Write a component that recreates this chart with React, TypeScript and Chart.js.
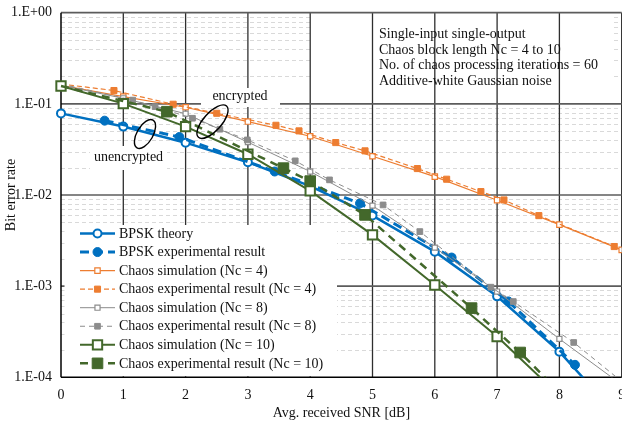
import React, { useEffect, useRef } from 'react';
import { Chart, registerables } from 'chart.js';

Chart.register(...registerables);

// ---------- data ----------
const seriesLabels = [
  'BPSK theory',
  'BPSK experimental result',
  'Chaos simulation (Nc = 4)',
  'Chaos experimental result (Nc = 4)',
  'Chaos simulation (Nc = 8)',
  'Chaos experimental result (Nc = 8)',
  'Chaos simulation (Nc = 10)',
  'Chaos experimental result (Nc = 10)',
];

const snrBpskTheory = [0, 1, 2, 3, 4, 5, 6, 7, 8, 9];
const berBpskTheory = [0.0786, 0.0563, 0.0375, 0.0229, 0.0125, 0.00595, 0.00239, 0.000773, 0.000191, 0.0000336];

const snrBpskExp = [0.7, 1.9, 3.43, 4.8, 6.27, 7.18, 8.25];
const berBpskExp = [0.0654, 0.0433, 0.0181, 0.0081, 0.00206, 0.00068, 0.000137];

const snrSimNc4 = [0, 1, 2, 3, 4, 5, 6, 7, 8, 9];
const berSimNc4 = [0.16, 0.12, 0.0918, 0.0639, 0.0441, 0.0266, 0.0159, 0.00877, 0.00473, 0.0025];

const snrExpNc4 = [0, 0.85, 1.8, 2.5, 3.45, 3.82, 4.41, 4.88, 5.72, 6.19, 6.74, 7.11, 7.67, 8.88];
const berExpNc4 = [0.165, 0.14, 0.099, 0.0788, 0.0582, 0.0505, 0.0376, 0.0305, 0.0195, 0.0149, 0.0109, 0.00883, 0.00594, 0.00272];

const snrSimNc8 = [0, 1, 2, 3, 4, 5, 6, 7, 8, 9];
const berSimNc8 = [0.16, 0.115, 0.078, 0.038, 0.0181, 0.00765, 0.00265, 0.000873, 0.000264, 0.000083];

const snrExpNc8 = [0, 1.15, 1.51, 2.11, 2.55, 2.99, 3.76, 4.31, 5.17, 5.76, 6.9, 7.26, 8.23, 9.0];
const berExpNc8 = [0.165, 0.11, 0.0933, 0.0695, 0.0527, 0.0402, 0.0237, 0.01465, 0.00778, 0.00397, 0.000975, 0.000678, 0.000241, 0.00009];

const snrSimNc10 = [0, 1, 2, 3, 4, 5, 6, 7, 8];
const berSimNc10 = [0.157, 0.1005, 0.0562, 0.028, 0.0111, 0.00365, 0.00103, 0.00028, 0.000063];

const snrExpNc10 = [0, 1.7, 3.57, 4.0, 4.88, 6.59, 7.37, 8.0];
const berExpNc10 = [0.157, 0.082, 0.0197, 0.0142, 0.00605, 0.000574, 0.000187, 0.000069];

const xTickLabels = ['0', '1', '2', '3', '4', '5', '6', '7', '8', '9'];
const yTickValues = [1, 0.1, 0.01, 0.001, 0.0001];
const yTickLabels = ['1.E+00', '1.E-01', '1.E-02', '1.E-03', '1.E-04'];

const xTitle = 'Avg. received SNR [dB]';
const yTitle = 'Bit error rate';
const noteLines = [
  'Single-input single-output',
  'Chaos block length Nc = 4 to 10',
  'No. of chaos processing iterations = 60',
  'Additive-white Gaussian noise',
];
const labelEncrypted = 'encrypted';
const labelUnencrypted = 'unencrypted';

// ---------- styles ----------
const FONT = '"Liberation Serif", "Times New Roman", serif';
const BLUE = '#0070c0';
const ORANGE = '#ed7d31';
const GRAY = '#8c8c8c';
const GREEN = '#43682b';
const TEXT = '#111111';

type Style = {
  color: string; width: number; dash: number[]; shape: 'circle' | 'rect';
  r: number; fill: string; bw: number;
};

const styles: Style[] = [
  { color: BLUE, width: 2.5, dash: [], shape: 'circle', r: 4, fill: '#fff', bw: 2 },
  { color: BLUE, width: 3, dash: [9, 5], shape: 'circle', r: 4.5, fill: BLUE, bw: 1 },
  { color: ORANGE, width: 1.2, dash: [], shape: 'rect', r: 3.8, fill: '#fff', bw: 1.2 },
  { color: ORANGE, width: 1.2, dash: [5, 3], shape: 'rect', r: 4.3, fill: ORANGE, bw: 1 },
  { color: GRAY, width: 1, dash: [], shape: 'rect', r: 3.6, fill: '#fff', bw: 1.2 },
  { color: GRAY, width: 1, dash: [5, 4], shape: 'rect', r: 4, fill: GRAY, bw: 1 },
  { color: GREEN, width: 2, dash: [], shape: 'rect', r: 6.6, fill: '#fff', bw: 2 },
  { color: GREEN, width: 2.5, dash: [8, 6], shape: 'rect', r: 7.5, fill: GREEN, bw: 1 },
];

const seriesX = [snrBpskTheory, snrBpskExp, snrSimNc4, snrExpNc4, snrSimNc8, snrExpNc8, snrSimNc10, snrExpNc10];
const seriesY = [berBpskTheory, berBpskExp, berSimNc4, berExpNc4, berSimNc8, berExpNc8, berSimNc10, berExpNc10];

function drawMarker(ctx: CanvasRenderingContext2D, s: Style, x: number, y: number) {
  ctx.save();
  ctx.setLineDash([]);
  ctx.fillStyle = s.fill;
  ctx.strokeStyle = s.color;
  ctx.lineWidth = s.bw;
  ctx.beginPath();
  if (s.shape === 'circle') {
    ctx.arc(x, y, s.r, 0, Math.PI * 2);
  } else {
    const h = s.r * Math.SQRT1_2;
    ctx.rect(x - h, y - h, 2 * h, 2 * h);
  }
  ctx.fill();
  ctx.stroke();
  ctx.restore();
}

const decorPlugin = {
  id: 'decor',
  beforeDatasetsDraw(chart: any) {
    const { ctx, chartArea: a, scales } = chart;
    const xs = scales.x;
    const ys = scales.y;
    const hline = (x1: number, y: number, x2: number) => {
      ctx.beginPath(); ctx.moveTo(x1, y); ctx.lineTo(x2, y); ctx.stroke();
    };
    const vline = (x: number, y1: number, y2: number) => {
      ctx.beginPath(); ctx.moveTo(x, y1); ctx.lineTo(x, y2); ctx.stroke();
    };
    ctx.save();
    // minor horizontal dashed grid
    ctx.strokeStyle = '#d9d9d9';
    ctx.lineWidth = 1;
    ctx.setLineDash([4, 3]);
    for (let e = -4; e < 0; e++) {
      for (let k = 2; k <= 9; k++) {
        const y = Math.round(ys.getPixelForValue(k * Math.pow(10, e))) + 0.5;
        hline(a.left, y, a.right);
      }
    }
    ctx.setLineDash([]);
    // note box (behind major grid)
    ctx.fillStyle = '#fff';
    ctx.fillRect(312, 14, 299, 86);
    // major vertical grid
    ctx.strokeStyle = '#2e2e2e';
    ctx.lineWidth = 1.3;
    for (let v = 1; v <= 9; v++) vline(xs.getPixelForValue(v), a.top, a.bottom);
    // major horizontal grid
    ctx.strokeStyle = '#5c5c5c';
    ctx.lineWidth = 1.7;
    for (const v of yTickValues.slice(0, 4)) hline(a.left, ys.getPixelForValue(v), a.right);
    // white label boxes
    ctx.fillStyle = '#fff';
    ctx.fillRect(64.5, 225, 272.5, a.bottom - 225 - 1);
    ctx.fillRect(90, 146, 77, 24);
    ctx.fillRect(201, 88, 79, 19);
    // axes
    ctx.strokeStyle = '#000';
    ctx.lineWidth = 1.5;
    vline(a.left, a.top, a.bottom);
    hline(a.left, a.bottom, a.right);
    ctx.restore();
  },
  afterDatasetsDraw(chart: any) {
    const { ctx } = chart;
    ctx.save();
    // ellipses
    ctx.strokeStyle = '#000';
    ctx.lineWidth = 1.4;
    ctx.beginPath();
    ctx.ellipse(145, 134, 16, 8, -60 * Math.PI / 180, 0, Math.PI * 2);
    ctx.stroke();
    ctx.beginPath();
    ctx.ellipse(212.5, 121.7, 21, 9, -48 * Math.PI / 180, 0, Math.PI * 2);
    ctx.stroke();
    // texts
    ctx.fillStyle = TEXT;
    ctx.font = `14px ${FONT}`;
    ctx.textBaseline = 'middle';
    ctx.textAlign = 'center';
    ctx.fillText(labelEncrypted, 240, 96.5);
    ctx.fillText(labelUnencrypted, 128.5, 157);
    ctx.textAlign = 'left';
    noteLines.forEach((t, i) => ctx.fillText(t, 379, 34 + i * 15.9));
    // legend
    seriesLabels.forEach((label, i) => {
      const s = styles[i];
      const y = 233.5 + i * 18.55;
      ctx.save();
      ctx.strokeStyle = s.color;
      ctx.lineWidth = s.width;
      ctx.setLineDash(s.dash);
      ctx.beginPath();
      ctx.moveTo(80, y);
      ctx.lineTo(115, y);
      ctx.stroke();
      ctx.restore();
      drawMarker(ctx, s, 97.5, y);
      ctx.fillStyle = TEXT;
      ctx.fillText(label, 119, y + 0.5);
    });
    ctx.restore();
  },
};

export default function App() {
  const ref = useRef<HTMLCanvasElement>(null);
  useEffect(() => {
    const canvas = ref.current;
    if (!canvas) return;
    const datasets = seriesLabels.map((label, i) => {
      const s = styles[i];
      const isExp = i % 2 === 1;
      return {
        label,
        data: seriesX[i].map((x, j) => ({ x, y: seriesY[i][j] })),
        borderColor: s.color,
        backgroundColor: s.fill,
        borderWidth: s.width,
        borderDash: s.dash,
        pointStyle: s.shape,
        pointRadius: (c: any) => (isExp && c.raw && c.raw.x === 0 ? 0 : s.r),
        pointBackgroundColor: s.fill,
        pointBorderColor: s.color,
        pointBorderWidth: s.bw,
        pointHoverRadius: s.r,
        tension: 0,
        fill: false,
        order: 20 - i,
        clip: { left: 20, top: 20, right: 0, bottom: 0 },
      };
    });
    const chart = new Chart(canvas, {
      type: 'line',
      data: { datasets } as any,
      plugins: [decorPlugin as any],
      options: {
        responsive: false,
        animation: false,
        devicePixelRatio: 1,
        events: [],
        layout: { padding: { top: 12.7, right: 18.3, bottom: 0, left: 0 } },
        plugins: { legend: { display: false }, tooltip: { enabled: false } },
        scales: {
          x: {
            type: 'linear',
            min: 0,
            max: 9,
            afterFit: (s: any) => { s.height = 45.7; s.paddingLeft = 0; s.paddingRight = 0; },
            grid: { display: false, drawTicks: false },
            border: { display: false },
            ticks: {
              stepSize: 1,
              autoSkip: false,
              maxRotation: 0,
              padding: 10,
              color: TEXT,
              font: { family: FONT, size: 14 },
              callback: (v: any) => xTickLabels[Math.round(Number(v))] ?? '',
            },
            title: {
              display: true,
              text: xTitle,
              color: TEXT,
              font: { family: FONT, size: 14 },
              padding: { top: 0, bottom: 1.6 },
            },
          },
          y: {
            type: 'logarithmic',
            min: 0.0001,
            max: 1,
            afterFit: (s: any) => { s.width = 61; s.paddingTop = 0; s.paddingBottom = 0; },
            afterBuildTicks: (s: any) => { s.ticks = yTickValues.map((value) => ({ value })); },
            grid: { display: false, drawTicks: false },
            border: { display: false },
            ticks: {
              autoSkip: false,
              padding: 9,
              color: TEXT,
              font: { family: FONT, size: 14 },
              callback: (v: any) => {
                const idx = yTickValues.findIndex((t) => Math.abs(Math.log10(t) - Math.log10(Number(v))) < 1e-6);
                return idx >= 0 ? yTickLabels[idx] : '';
              },
            },
            title: {
              display: true,
              text: yTitle,
              color: TEXT,
              font: { family: FONT, size: 14 },
              padding: { top: 2.5, bottom: 0 },
            },
          },
        },
      } as any,
    });
    return () => chart.destroy();
  }, []);
  return (
    <div style={{ position: 'fixed', left: 0, top: 0, width: 622, height: 423, overflow: 'hidden', background: '#fff' }}>
      <canvas ref={ref} width={640} height={423} style={{ display: 'block', width: 640, height: 423 }} />
    </div>
  );
}
